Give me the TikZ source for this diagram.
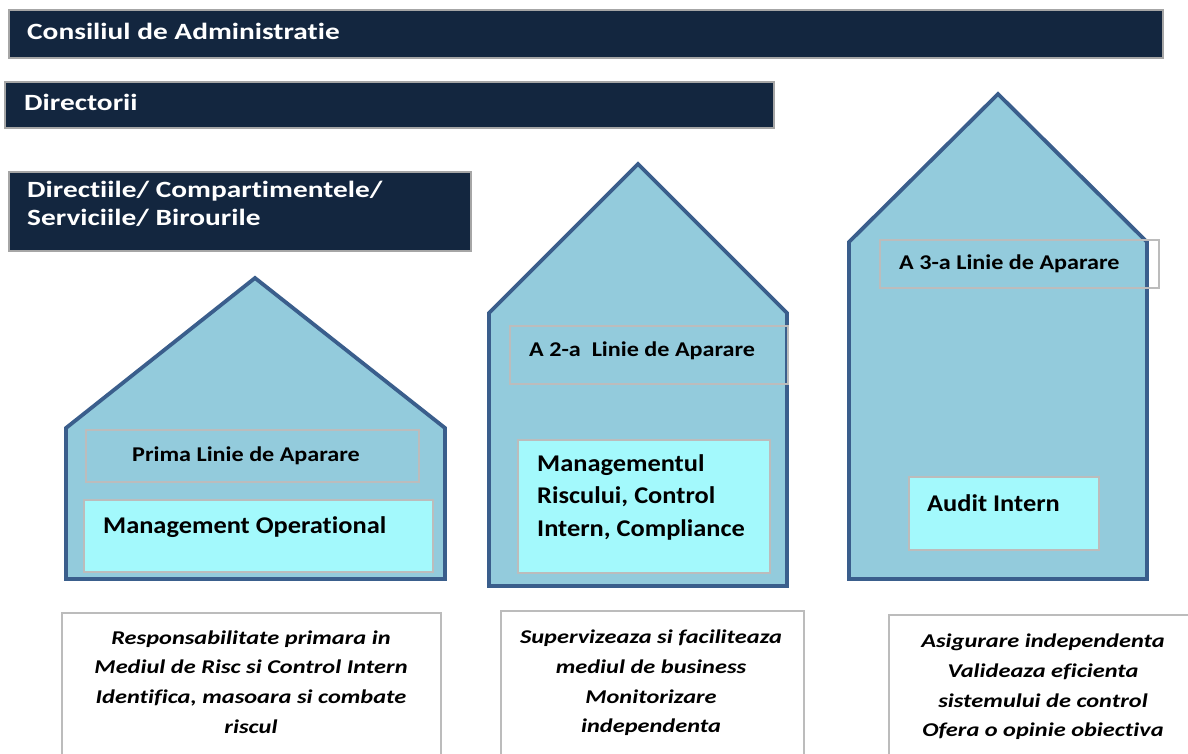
\documentclass[tikz,border=0pt]{standalone}
\usepackage{fontspec}
\setmainfont{Carlito}[Ligatures=NoCommon]
\newfontfamily\barfont{Carlito}[FakeStretch=1.26, Ligatures=NoCommon]
\newfontfamily\labfont{Carlito}[FakeStretch=1.15, Ligatures=NoCommon]
\newfontfamily\mgfont{Carlito}[FakeStretch=1.1, Ligatures=NoCommon]
\newfontfamily\descfont{Carlito}[FakeStretch=1.25, Ligatures=NoCommon]
\definecolor{navy}{HTML}{13263F}
\definecolor{barline}{HTML}{A6A6A6}
\definecolor{housefill}{HTML}{93CBDC}
\definecolor{houseline}{HTML}{3A5E8C}
\definecolor{cyanbox}{HTML}{A3F9FC}
\definecolor{boxline}{HTML}{BCBCBC}
\tikzset{
  bar/.style={draw=barline, line width=2pt, fill=navy, anchor=north west, inner sep=0pt},
  bartext/.style={text=white, font=\barfont\bfseries\fontsize{23.3}{28}\selectfont, anchor=west, inner sep=0pt, align=left},
  house/.style={draw=houseline, line width=3.8pt, fill=housefill, line join=miter},
  linebox/.style={draw=boxline, line width=1.6pt, anchor=north west, inner sep=0pt},
  mgmtbox/.style={draw=boxline, line width=1.6pt, fill=cyanbox, anchor=north west, inner sep=0pt},
  labeltext/.style={font=\labfont\bfseries\fontsize{21}{26}\selectfont, inner sep=0pt},
  mgmttext/.style={font=\mgfont\bfseries\fontsize{24}{32.5}\selectfont, inner sep=0pt, anchor=west, align=left},
  desctext/.style={font=\descfont\bfseries\itshape\fontsize{19.5}{29.7}\selectfont, inner sep=0pt, align=center},
  descbox/.style={draw=boxline, line width=1.6pt, fill=white}
}
\begin{document}
\begin{tikzpicture}[x=1pt,y=-1pt]
\useasboundingbox[fill=white] (0,0) rectangle (1188,753);
% top bars
\node[bar, minimum width=1154pt, minimum height=48pt] (b1) at (8,9) {};
\node[bartext] (t1) at (27,31) {Consiliul de Administratie};
\node[bar, minimum width=769pt, minimum height=46pt] (b2) at (4,81) {};
\node[bartext] (t2) at (24,102) {Directorii};
\node[bar, minimum width=462pt, minimum height=79pt] (b3) at (8,171) {};
\node[bartext] (t3) at (27,204) {Directiile/ Compartimentele/\\Serviciile/ Birourile};
% houses
\draw[house] (66,579) -- (66,428) -- (255,278) -- (445,428) -- (445,579) -- cycle;
\draw[house] (489,586) -- (489,313) -- (638,164) -- (787,313) -- (787,586) -- cycle;
\draw[house] (849,579) -- (849,242) -- (998,94) -- (1147,242) -- (1147,579) -- cycle;
% house 1
\node[linebox, minimum width=333pt, minimum height=52pt] (l1) at (85,429) {};
\node[labeltext] (l1t) at (246,456) {Prima Linie de Aparare};
\node[mgmtbox, minimum width=349pt, minimum height=72pt] (m1) at (83,499) {};
\node[mgmttext] (m1t) at (103,527) {Management Operational};
% house 2
\node[linebox, minimum width=278pt, minimum height=58pt] (l2) at (509,325) {};
\node[labeltext, anchor=west] (l2t) at (529,351) {A 2-a \ Linie de Aparare};
\node[mgmtbox, minimum width=252pt, minimum height=133pt] (m2) at (517,439) {};
\node[mgmttext] (m2t) at (537,497) {Managementul\\Riscului, Control\\Intern, Compliance};
% house 3
\node[linebox, minimum width=279pt, minimum height=48pt] (l3) at (879,239) {};
\node[labeltext, anchor=west] (l3t) at (899,264) {A 3-a Linie de Aparare};
\node[mgmtbox, minimum width=190pt, minimum height=73pt] (m3) at (908,476) {};
\node[mgmttext] (m3t) at (927,503) {Audit Intern};
% description boxes
\draw[descbox] (62,760) -- (62,613) -- (441,613) -- (441,760);
\node[desctext] (d1) at (251,682) {Responsabilitate primara in\\Mediul de Risc si Control Intern\\Identifica, masoara si combate\\riscul};
\draw[descbox] (501,760) -- (501,611) -- (804,611) -- (804,760);
\node[desctext] (d2) at (651,683) {Supervizeaza si faciliteaza\\mediul de business\\Monitorizare\\independenta};
\draw[descbox] (889,760) -- (889,615) -- (1200,615) -- (1200,760);
\node[desctext] (d3) at (1043,687) {Asigurare independenta\\Valideaza eficienta\\sistemului de control\\Ofera o opinie obiectiva};
\end{tikzpicture}
\end{document}
